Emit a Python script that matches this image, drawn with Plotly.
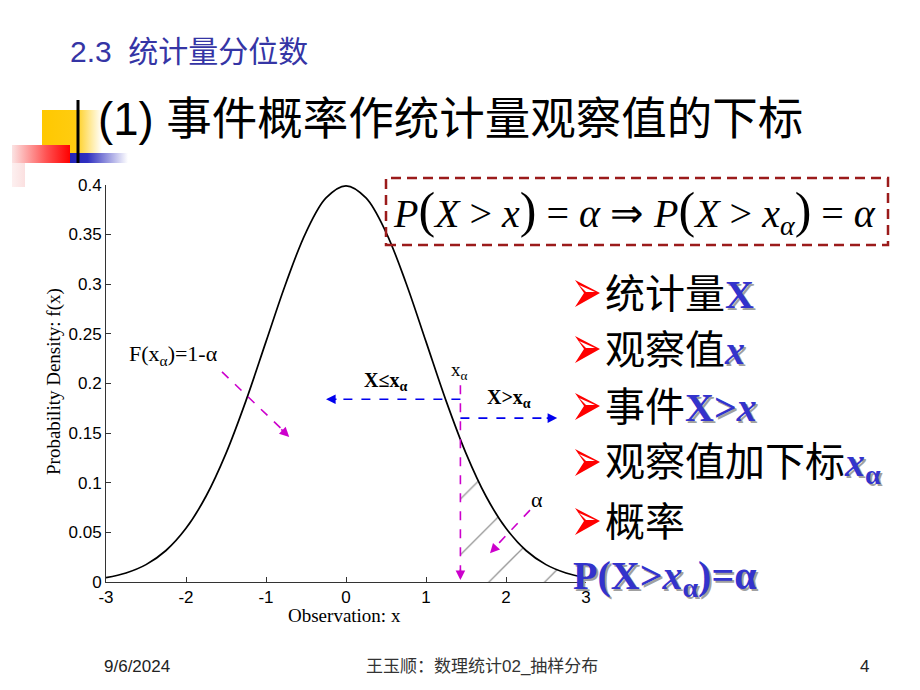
import plotly.graph_objects as go

W, H = 920, 690          # reference picture size
OFF = 8                  # page body margin of the html page
FW, FH = W - OFF, H - OFF  # figure size so that the figure fills the window

# ---------------- data ----------------
curve_x = [-3.0, -2.75, -2.5, -2.25, -2.0, -1.75, -1.5, -1.25, -1.0, -0.75, -0.5, -0.25, 0.0,
           0.25, 0.5, 0.75, 1.0, 1.25, 1.5, 1.75, 2.0, 2.25, 2.5, 2.75, 3.0]
curve_y = [0.0044, 0.0091, 0.0175, 0.0317, 0.0540, 0.0863, 0.1295, 0.1826, 0.2420, 0.3011, 0.3521, 0.3867, 0.3989,
           0.3867, 0.3521, 0.3011, 0.2420, 0.1826, 0.1295, 0.0863, 0.0540, 0.0317, 0.0175, 0.0091, 0.0044]
x_alpha = 1.43
f_at_x_alpha = 0.144
x_ticks = [-3, -2, -1, 0, 1, 2, 3]
x_tick_labels = ["-3", "-2", "-1", "0", "1", "2", "3"]
y_ticks = [0, 0.05, 0.1, 0.15, 0.2, 0.25, 0.3, 0.35, 0.4]
y_tick_labels = ["0", "0.05", "0.1", "0.15", "0.2", "0.25", "0.3", "0.35", "0.4"]

tail_x = [x_alpha] + [x for x in curve_x if x > x_alpha]
tail_y = [f_at_x_alpha] + [y for x, y in zip(curve_x, curve_y) if x > x_alpha]

# ---------------- styles / positions ----------------
MAG = "#CC00CC"
BLUE = "#0000EE"
TXTBLUE = "#3333CC"
SERIF = "Liberation Serif, Times New Roman, serif"
SANS = "Liberation Sans, Arial, sans-serif"
CJK = "Liberation Sans, Noto Sans CJK SC, sans-serif"


def px(x):
    return (x - OFF) / FW


def py(y):
    return 1 - (y - OFF) / FH


fig = go.Figure()

# hatched tail area
fig.add_trace(go.Scatter(
    x=tail_x, y=tail_y, mode="lines", line=dict(width=0, shape="spline"),
    fill="tozeroy", fillcolor="rgba(0,0,0,0)",
    fillpattern=dict(shape="/", fgcolor="#333333", bgcolor="rgba(0,0,0,0)", size=39.41, solidity=0.035),
    hoverinfo="skip", showlegend=False))

# density curve
fig.add_trace(go.Scatter(
    x=curve_x, y=curve_y, mode="lines", line=dict(color="black", width=1.7, shape="spline"),
    hoverinfo="skip", showlegend=False))


# ---------------- decorative gradient blocks (pixel axes) ----------------
def grad_rect(x0, x1, y0, y1, scale):
    fig.add_trace(go.Scatter(
        x=[x0, x1, x1, x0, x0], y=[y0, y0, y1, y1, y0], xaxis="x2", yaxis="y2",
        mode="lines", line=dict(width=0), fill="toself",
        fillgradient=dict(type="horizontal", colorscale=scale),
        hoverinfo="skip", showlegend=False))


grad_rect(42, 102, 110, 154, [[0, "#FFC800"], [0.55, "#FFCC10"], [1, "#FFFFFF"]])
grad_rect(12, 70, 145, 163, [[0, "#FBE3E3"], [0.6, "#FF5050"], [1, "#FF0000"]])
grad_rect(12, 25, 163, 187, [[0, "#FDF0F0"], [1, "#FBE0E0"]])
grad_rect(70, 128, 153, 163, [[0, "#2424B8"], [0.3, "#3030C0"], [1, "#FFFFFF"]])

shapes = []
# black vertical bar
shapes.append(dict(type="line", xref="x2", yref="y2", x0=78, x1=78, y0=100, y1=163,
                   line=dict(color="black", width=3)))

# formula box
shapes.append(dict(type="rect", xref="paper", yref="paper", x0=px(386), x1=px(888), y0=py(245), y1=py(178),
                   line=dict(color="#9B1B1B", width=2.5, dash="10px,6px"), fillcolor="rgba(0,0,0,0)"))

# bullet arrowheads
row_y = [291, 347, 404, 460, 519]
for yc in row_y:
    yc2 = yc + 2
    shapes.append(dict(type="path", xref="x2", yref="y2",
                       path=f"M 575 {yc2-13} L 600 {yc2} L 575 {yc2+14} L 584 {yc2} Z",
                       fillcolor="#FF0000", line=dict(width=0)))
    shapes.append(dict(type="path", xref="x2", yref="y2",
                       path=f"M 579 {yc2-8} L 595 {yc2-1} L 586 {yc2-1} Z",
                       fillcolor="#FFFFFF", line=dict(width=0)))


# dashed arrows in the chart
def dashed(x0, y0, x1, y1, color):
    shapes.append(dict(type="line", xref="x", yref="y", x0=x0, y0=y0, x1=x1, y1=y1,
                       line=dict(color=color, width=1.6, dash="dash")))


annotations = []


def head(x0, y0, x1, y1, color):
    # arrow head at (x1, y1) pointing along the segment
    f = 0.14
    annotations.append(dict(x=x1, y=y1, xref="x", yref="y", axref="x", ayref="y",
                            ax=x1 - f * (x1 - x0), ay=y1 - f * (y1 - y0), text="",
                            showarrow=True, arrowhead=2, arrowsize=1.2, arrowwidth=1.6,
                            arrowcolor=color, standoff=0))


def head_px(x1, y1, ax, ay, color):
    annotations.append(dict(x=x1, y=y1, xref="x", yref="y", ax=ax, ay=ay, text="",
                            showarrow=True, arrowhead=2, arrowsize=1.2, arrowwidth=1.6,
                            arrowcolor=color, standoff=0))


dashed(x_alpha, 0.198, x_alpha, 0.006, MAG)
head_px(x_alpha, 0.002, 0, -12, MAG)
dashed(x_alpha, 0.184, -0.21, 0.184, BLUE)
head_px(-0.25, 0.184, 12, 0, BLUE)
dashed(x_alpha, 0.165, 2.6, 0.165, BLUE)
head_px(2.64, 0.165, -12, 0, BLUE)
dashed(-1.55, 0.2116, -0.74, 0.149, MAG)
head(-1.55, 0.2116, -0.71, 0.146, MAG)
dashed(2.30, 0.0724, 1.84, 0.033, MAG)
head(2.30, 0.0724, 1.80, 0.029, MAG)


# chart text
def dtext(x, y, text, size=17, color="black"):
    annotations.append(dict(x=x, y=y, xref="x", yref="y", text=text, showarrow=False,
                            font=dict(family=SERIF, size=size, color=color),
                            xanchor="center", yanchor="middle"))


dtext(1.42, 0.212, "x<sub>α</sub>", 19)
dtext(0.49, 0.202, "<b>X≤x<sub>α</sub></b>", 20)
dtext(2.04, 0.185, "<b>X&gt;x<sub>α</sub></b>", 20)
dtext(2.39, 0.0835, "α", 22)
dtext(-2.16, 0.229, "F(x<sub>α</sub>)=1-α", 22)

# axis titles
annotations.append(dict(x=px(54), y=py(382), xref="paper", yref="paper", text="Probability Density: f(x)",
                        textangle=-90, showarrow=False, font=dict(family=SERIF, size=19, color="black"),
                        xanchor="center", yanchor="middle"))
annotations.append(dict(x=px(344), y=py(615), xref="paper", yref="paper", text="Observation: x",
                        showarrow=False, font=dict(family=SERIF, size=19, color="black"),
                        xanchor="center", yanchor="middle"))


def ptext(x, y, text, size, color="black", family=CJK, xanchor="left", xshift=0, yshift=0):
    annotations.append(dict(x=px(x), y=py(y), xref="paper", yref="paper", text=text, showarrow=False,
                            font=dict(family=family, size=size, color=color), xanchor=xanchor,
                            yanchor="middle", xshift=xshift, yshift=yshift))


# slide titles
ptext(68, 52, "2.3  统计量分位数", 30, "#3535A5")
ptext(96, 120, "(1) 事件概率作统计量观察值的下标", 45.5, "black")

# formula in box
BP = '<span style="font-size:50px">(</span>'
EP = '<span style="font-size:50px">)</span>'
formula = (f"<i>P</i>{BP}<i>X</i> &gt; <i>x</i>{EP} = <i>α</i> ⇒ "
           f"<i>P</i>{BP}<i>X</i> &gt; <i>x<sub>α</sub></i>{EP} = <i>α</i>")
ptext(391, 212, formula, 40, "black", family=SERIF)

# bullet rows (with shadow)
cn_rows = ["统计量", "观察值", "事件", "观察值加下标", "概率"]
blue_rows = ["X", "<i>x</i>", "X&gt;<i>x</i>", "<i>x</i><sub>α</sub>", ""]
SERIF_B = "font-family:Liberation Serif;font-weight:bold"
for yc, cn, bl in zip(row_y, cn_rows, blue_rows):
    if bl:
        shadow = (f'<span style="color:rgba(0,0,0,0)">{cn}</span>'
                  f'<span style="{SERIF_B};color:#A0A0A0">{bl}</span>')
        ptext(603, yc, shadow, 40, "black", family="Noto Sans CJK SC", xshift=2, yshift=-2)
    main = f'{cn}<span style="{SERIF_B};color:{TXTBLUE}">{bl}</span>' if bl else cn
    ptext(603, yc, main, 40, "black", family="Noto Sans CJK SC")

final = "<b>P(X&gt;<i>x</i><sub>α</sub>)=α</b>"
ptext(571, 578, final, 40, "#A0A0A0", family=SERIF, xshift=2, yshift=-2)
ptext(571, 578, final, 40, TXTBLUE, family=SERIF)

# footer
ptext(137, 666, "9/6/2024", 17, "#222222", family=SANS, xanchor="center")
ptext(482, 666, "王玉顺：数理统计02_抽样分布", 17, "#333333", family=CJK, xanchor="center")
ptext(864, 666, "4", 17, "#222222", family=SANS, xanchor="center")

axis_common = dict(showgrid=False, zeroline=False, showline=True, linecolor="#333333", linewidth=1,
                   ticks="inside", ticklen=5, tickcolor="#333333", tickwidth=1, automargin=False,
                   tickfont=dict(family=SANS, size=17, color="black"), mirror=False, fixedrange=True)

fig.update_layout(
    width=FW, height=FH, autosize=False,
    margin=dict(l=0, r=0, t=0, b=0, pad=0, autoexpand=False),
    paper_bgcolor="white", plot_bgcolor="rgba(0,0,0,0)",
    xaxis=dict(domain=[px(106), px(586)], range=[-3, 3], tickvals=x_ticks, ticktext=x_tick_labels,
               anchor="y", **axis_common),
    yaxis=dict(domain=[py(582), py(184.7)], range=[0, 0.4], tickvals=y_ticks, ticktext=y_tick_labels,
               anchor="x", **axis_common),
    xaxis2=dict(domain=[0, 1], range=[OFF, W], visible=False, anchor="y2", fixedrange=True, automargin=False),
    yaxis2=dict(domain=[0, 1], range=[H, OFF], visible=False, anchor="x2", fixedrange=True, automargin=False),
    shapes=shapes, annotations=annotations, showlegend=False,
)

fig.write_html("out.html")
